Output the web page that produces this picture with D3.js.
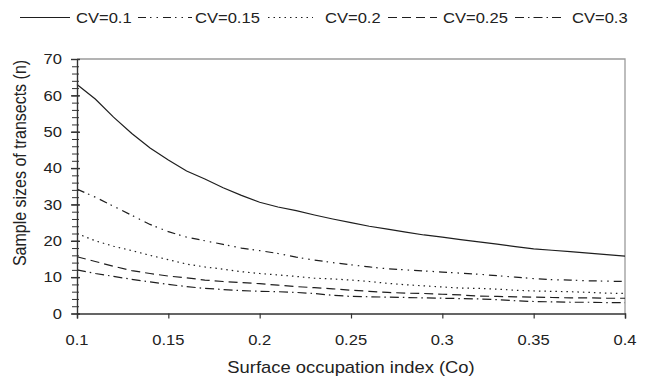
<!DOCTYPE html>
<html>
<head>
<meta charset="utf-8">
<script src="https://cdn.jsdelivr.net/npm/d3@7"></script>
<style>
  html, body { margin: 0; padding: 0; background: #fff; }
  svg { display: block; }
  text { font-family: "Liberation Sans", Arial, sans-serif; fill: #222; }
</style>
</head>
<body>
<svg id="chart" width="649" height="380"></svg>
<script>
// ---- data ----
const co = [0.10,0.11,0.12,0.13,0.14,0.15,0.16,0.17,0.18,0.19,0.20,0.21,0.22,0.23,0.24,0.25,0.26,0.27,0.28,0.29,0.30,0.31,0.32,0.33,0.34,0.35,0.36,0.37,0.38,0.39,0.40];
const cv010 = [63,59,54,49.5,45.5,42.2,39.2,37,34.6,32.5,30.6,29.3,28.3,27.1,26,25,24,23.2,22.4,21.6,21,20.3,19.7,19.1,18.4,17.8,17.4,17,16.6,16.2,15.8];
const cv015 = [34.2,32,29.5,27,24.5,22.5,21,20,19,18,17.3,16.5,15.5,14.7,14,13.4,12.8,12.3,12,11.7,11.4,11.1,10.8,10.4,10,9.6,9.3,9.2,9,8.9,8.8];
const cv020 = [22,20,18.5,17.3,16,14.8,13.6,12.8,12.2,11.5,11,10.6,10.2,9.7,9.5,9.2,8.8,8.3,7.9,7.6,7.3,7,6.9,6.7,6.4,6.2,6.1,6,5.8,5.6,5.5];
const cv025 = [15.6,14.3,13,11.8,11,10.3,9.8,9.2,8.8,8.5,8.2,7.8,7.4,7.1,6.8,6.4,6.1,5.8,5.6,5.5,5.3,5.1,4.8,4.7,4.6,4.5,4.4,4.3,4.3,4.2,4.2];
const cv030 = [12,11,10.2,9.4,8.7,8,7.4,6.9,6.6,6.3,6.1,6,5.8,5.5,5,4.7,4.6,4.5,4.4,4.3,4.2,4.1,4,3.8,3.5,3.3,3.2,3.1,3.1,3,3];
const seriesNames = ["CV=0.1","CV=0.15","CV=0.2","CV=0.25","CV=0.3"];
const seriesValues = [cv010, cv015, cv020, cv025, cv030];
const xTicks = [0.1,0.15,0.2,0.25,0.3,0.35,0.4];
const xTickLabels = ["0.1","0.15","0.2","0.25","0.3","0.35","0.4"];
const yTicks = [0,10,20,30,40,50,60,70];
const xTitle = "Surface occupation index (Co)";
const yTitle = "Sample sizes of transects (n)";

// ---- styles ----
const dashes = ["none", "8,4,1.5,5,1.5,5", "1.5,4", "9,5", "9,4,1.5,4"];
const SX = 1.15; // horizontal text stretch seen in the reference

const W = 649, H = 380;
const m = {left: 77, right: 24, top: 59, bottom: 66.5};
const svg = d3.select("#chart");

const x = d3.scaleLinear().domain([0.1, 0.4]).range([m.left, W - m.right]);
const y = d3.scaleLinear().domain([0, 70]).range([H - m.bottom, m.top]);

function stext(g, tx, ty, str, size, anchor) {
  return g.append("text")
    .attr("transform", `translate(${tx},${ty}) scale(${SX},1)`)
    .attr("text-anchor", anchor)
    .attr("font-size", size)
    .text(str);
}

// frame (top & right, grey)
svg.append("path")
  .attr("d", `M${x(0.1)},${y(70)}H${x(0.4)}V${y(0)}`)
  .attr("fill", "none").attr("stroke", "#9a9a9a").attr("stroke-width", 1.3);

// lines
const line = d3.line().x((d, i) => x(co[i])).y(d => y(d));
seriesValues.forEach((vals, k) => {
  svg.append("path")
    .datum(vals)
    .attr("d", line)
    .attr("fill", "none")
    .attr("stroke", "#1e1e1e")
    .attr("stroke-width", 1.2)
    .attr("stroke-dasharray", dashes[k]);
});

// x axis
const xAxis = d3.axisBottom(x).tickValues(xTicks).tickFormat((d, i) => xTickLabels[i]).tickSizeOuter(0).tickSize(5);
const gx = svg.append("g").attr("transform", `translate(0,${y(0)})`).call(xAxis);
gx.select(".domain").attr("stroke", "#333").attr("stroke-width", 1.4);
gx.selectAll(".tick line").attr("stroke", "#333").attr("stroke-width", 1.2);
gx.selectAll(".tick text").remove();
xTicks.forEach((t, i) => stext(svg, x(t), 345, xTickLabels[i], 14.4, "middle"));

// y axis (minor ticks every 2)
const yMinor = d3.axisLeft(y).tickValues(d3.range(0, 71, 2)).tickSize(5).tickFormat("").tickSizeOuter(0);
const gym = svg.append("g").attr("transform", `translate(${x(0.1)},0)`).call(yMinor);
gym.select(".domain").remove();
gym.selectAll(".tick line").attr("x2", -5).attr("x1", 2).attr("stroke", "#333").attr("stroke-width", 1);
const yAxis = d3.axisLeft(y).tickValues(yTicks).tickSize(6).tickFormat("").tickSizeOuter(0);
const gy = svg.append("g").attr("transform", `translate(${x(0.1)},0)`).call(yAxis);
gy.select(".domain").attr("stroke", "#333").attr("stroke-width", 1.4);
gy.selectAll(".tick line").attr("x1", 3).attr("x2", -6).attr("stroke", "#333").attr("stroke-width", 1.4);
yTicks.forEach(t => stext(svg, 62, y(t) + 5.2, String(t), 14.4, "end"));

// axis titles
stext(svg, x(0.25), 373, xTitle, 16, "middle");
svg.append("text")
  .attr("transform", `translate(26,163) rotate(-90) scale(1,${SX})`)
  .attr("text-anchor", "middle").attr("font-size", 16)
  .text(yTitle);

// legend
const legX = [[20, 70, 76], [138, 192, 195], [268, 313, 325], [388, 437, 443], [515, 563, 572]];
seriesNames.forEach((name, k) => {
  const [x1, x2, tx] = legX[k];
  svg.append("line")
    .attr("x1", x1).attr("x2", x2).attr("y1", 17.5).attr("y2", 17.5)
    .attr("stroke", "#1e1e1e").attr("stroke-width", 1.2)
    .attr("stroke-dasharray", dashes[k]);
  stext(svg, tx, 23, name, 14.4, "start");
});
</script>
</body>
</html>
